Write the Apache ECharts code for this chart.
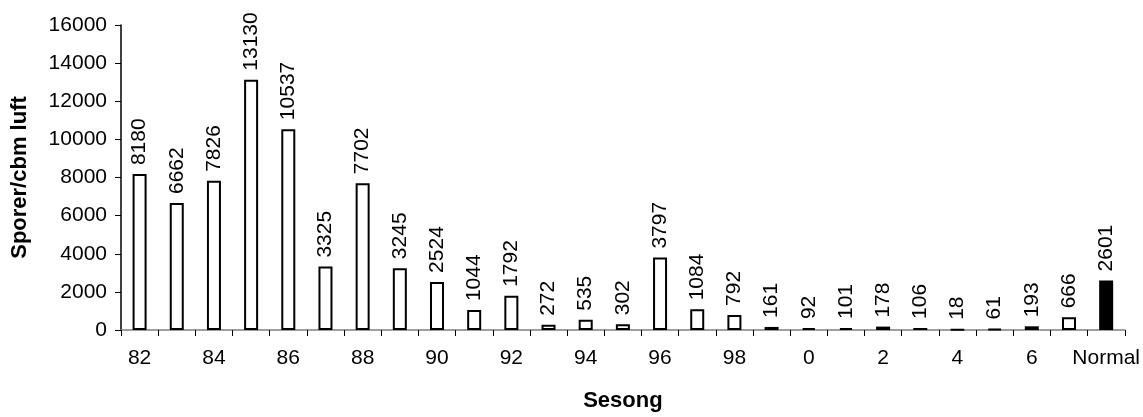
<!DOCTYPE html>
<html>
<head>
<meta charset="utf-8">
<script src="https://cdn.jsdelivr.net/npm/echarts@6/dist/echarts.min.js"></script>
<style>
html,body{margin:0;padding:0;background:#fff;}
#chart{width:1143px;height:417px;}
</style>
</head>
<body>
<div id="chart"></div>
<script>
const categories = ['82','83','84','85','86','87','88','89','90','91','92','93','94','95','96','97','98','99','0','1','2','3','4','5','6','7','Normal'];
const values = [8180,6662,7826,13130,10537,3325,7702,3245,2524,1044,1792,272,535,302,3797,1084,792,161,92,101,178,106,18,61,193,666,2601];
const yTitle = 'Sporer/cbm luft';
const xTitle = 'Sesong';
const highlightCategory = 'Normal';

const font = 'Liberation Sans, Arial, sans-serif';
const chart = echarts.init(document.getElementById('chart'));
chart.setOption({
  animation: false,
  backgroundColor: '#fff',
  grid: { left: 121, right: 18, top: 25, bottom: 81 },
  xAxis: {
    type: 'category',
    data: categories,
    boundaryGap: true,
    name: xTitle,
    nameLocation: 'middle',
    nameGap: 60,
    nameTextStyle: { fontFamily: font, fontSize: 22, fontWeight: 'bold', color: '#000' },
    axisLine: { lineStyle: { color: '#808080', width: 1.5 } },
    axisTick: { show: true, length: 6, alignWithLabel: false, interval: 0, lineStyle: { color: '#000', width: 1 } },
    axisLabel: { interval: 1, margin: 18, fontFamily: font, fontSize: 21, color: '#000' },
    splitLine: { show: false }
  },
  yAxis: {
    type: 'value',
    min: 0, max: 16000, interval: 2000,
    name: yTitle,
    nameLocation: 'middle',
    nameGap: 90,
    nameRotate: 90,
    nameTextStyle: { fontFamily: font, fontSize: 22, fontWeight: 'bold', color: '#000' },
    axisLine: { show: true, lineStyle: { color: '#000', width: 1.5 } },
    axisTick: { show: true, length: 6, lineStyle: { color: '#000', width: 1 } },
    axisLabel: { margin: 14, fontFamily: font, fontSize: 21, color: '#000', formatter: v => String(v) },
    splitLine: { show: false }
  },
  series: [{
    type: 'bar',
    barWidth: 14,
    data: values.map((v, i) => ({
      value: v,
      itemStyle: { color: categories[i] === highlightCategory ? '#000' : '#fff' }
    })),
    itemStyle: { borderColor: '#000', borderWidth: 2 },
    label: {
      show: true,
      position: 'top',
      rotate: 90,
      align: 'left',
      verticalAlign: 'middle',
      distance: 9,
      fontFamily: font,
      fontSize: 21,
      color: '#000'
    }
  }]
});
</script>
</body>
</html>
